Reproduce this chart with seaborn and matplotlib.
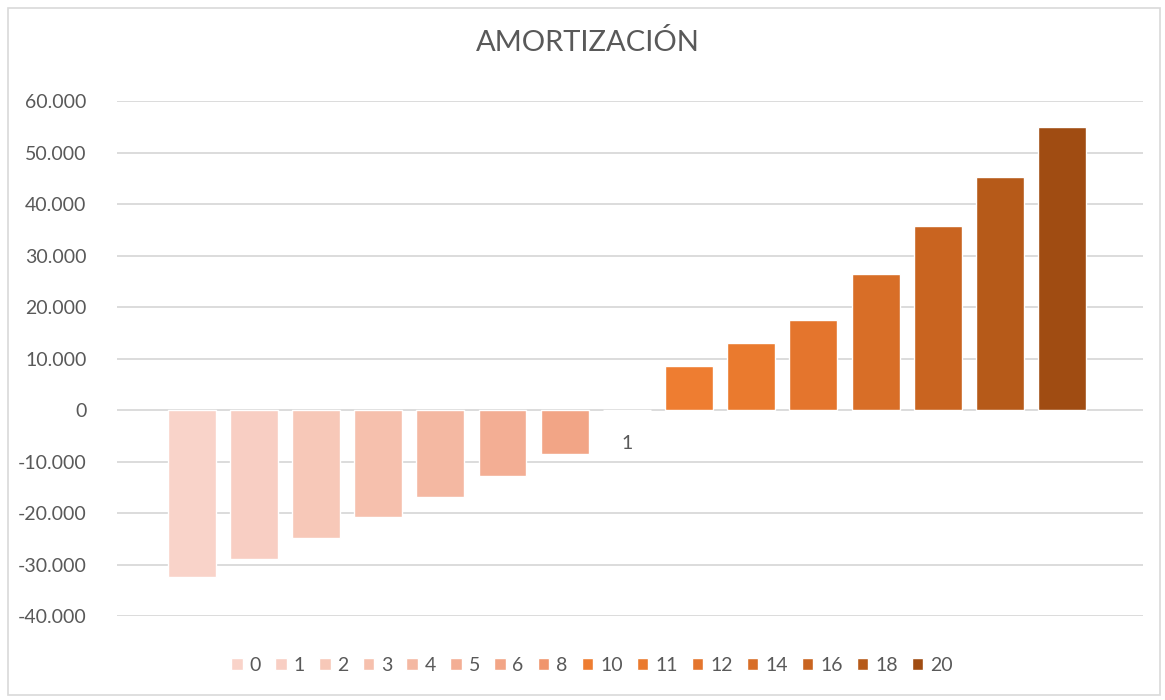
import pandas as pd
import matplotlib.pyplot as plt
import seaborn as sns
from matplotlib.patches import Rectangle

sns.set_style("white")
plt.rcParams["font.family"] = ["Lato", "DejaVu Sans"]

# data
category = "1"
series = ["0", "1", "2", "3", "4", "5", "6", "8", "10", "11", "12", "14", "16", "18", "20"]
values = [-32400, -28900, -24900, -20800, -16900, -12800, -8500, 0,
          8500, 13000, 17400, 26400, 35700, 45200, 54900]
colors = ["#F9D3C9", "#F8CEC3", "#F7C8B8", "#F6C0AD", "#F4B8A2", "#F3AE94", "#F2A586",
          "#F0956C", "#EE7D31", "#EA7A2E", "#E4752D", "#D86E27", "#C96420", "#B65A19",
          "#A04C12"]

df = pd.DataFrame({"cat": [category] * len(series), "serie": series, "valor": values})

fig = plt.figure(figsize=(11.65, 7.0), dpi=100)
ax = fig.add_axes([0.1004, 0.12, 0.8807, 0.7357])

sns.barplot(data=df, x="cat", y="valor", hue="serie", hue_order=series,
            palette=colors, saturation=1, width=0.9, gap=0.23, ax=ax)

ax.set_ylim(-40000, 60000)
ax.set_xlim(-0.492, 0.498)
ax.set_yticks(range(-40000, 60001, 10000))
ax.set_yticklabels([f"{v:,}".replace(",", ".") for v in range(-40000, 60001, 10000)])
ax.grid(axis="y", color="#D9D9D9", linewidth=1.3)
ax.set_axisbelow(True)
for s in ax.spines.values():
    s.set_visible(False)
# category label next to the zero line
ax.spines["bottom"].set_position(("data", 0))
ax.tick_params(axis="x", length=0, pad=18, labelsize=14, labelcolor="#595959")
ax.tick_params(axis="y", length=0, pad=22, labelsize=14, labelcolor="#595959")
ax.set_xlabel("")
ax.set_ylabel("")

ax.legend(loc="upper center", bbox_to_anchor=(0.463, -0.045), ncol=15, frameon=False,
          fontsize=14, labelcolor="#595959", handlelength=0.6, handleheight=0.6,
          handletextpad=0.35, columnspacing=0.72)

fig.suptitle("AMORTIZACIÓN", x=0.505, y=0.958, fontsize=21, color="#595959")

fig.patches.append(Rectangle((8 / 1165, 5 / 700), 1152 / 1165, 687 / 700,
                             transform=fig.transFigure, fill=False,
                             edgecolor="#D9D9D9", linewidth=1.2))

plt.savefig("out.png", dpi=100)
